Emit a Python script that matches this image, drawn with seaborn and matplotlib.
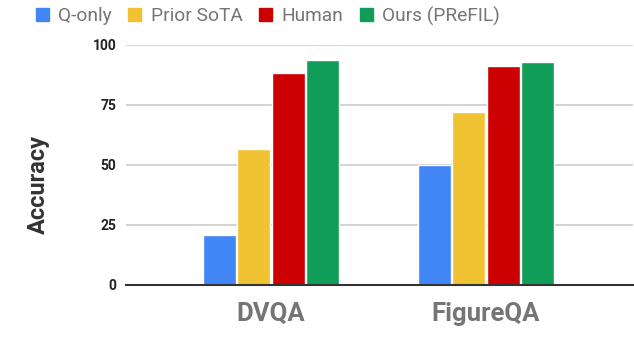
import pandas as pd
import matplotlib.pyplot as plt
import seaborn as sns

# data
datasets = ["DVQA", "FigureQA"]
methods = ["Q-only", "Prior SoTA", "Human", "Ours (PReFIL)"]
q_only = [21.0, 50.0]
prior_sota = [56.7, 72.2]
human = [88.3, 91.2]
ours = [93.6, 92.9]
colors = ["#4285F4", "#F1C232", "#CC0000", "#0F9D58"]

rows = []
for m, vals in zip(methods, [q_only, prior_sota, human, ours]):
    for d, v in zip(datasets, vals):
        rows.append({"dataset": d, "method": m, "accuracy": v})
df = pd.DataFrame(rows)

sns.set_style("white")
plt.rcParams['font.family'] = ['Roboto', 'DejaVu Sans']

fig = plt.figure(figsize=(6.34, 3.62), dpi=100)
ax = fig.add_axes([126 / 634, 77 / 362, 507 / 634, 240 / 362])

sns.barplot(data=df, x="dataset", y="accuracy", hue="method",
            hue_order=methods, palette=colors, width=0.64, gap=0.04,
            saturation=1, ax=ax, legend=False, zorder=3)

ax.set_ylim(0, 100)
ax.set_xlim(-0.674, 1.684)
ax.set_yticks([0, 25, 50, 75, 100])
ax.yaxis.grid(True, color="#cccccc", linewidth=1.2, zorder=0)
ax.set_axisbelow(True)
for s in ["top", "right", "left"]:
    ax.spines[s].set_visible(False)
ax.spines["bottom"].set_color("#333333")
ax.spines["bottom"].set_linewidth(1.5)
ax.spines["bottom"].set_zorder(5)

ax.tick_params(axis="y", length=0, pad=7, labelsize=10, labelcolor="#222222")
ax.tick_params(axis="x", length=0, pad=12, labelsize=18.5, labelcolor="#757575")
for t in ax.get_yticklabels():
    t.set_fontweight("bold")
for t in ax.get_xticklabels():
    t.set_fontweight("bold")

ax.set_xlabel("")
ax.set_ylabel("Accuracy", fontsize=17, fontweight="bold", color="#333333")
ax.yaxis.set_label_coords(-76 / 507, 0.42)

handles = [plt.Rectangle((0, 0), 1, 1, color=c) for c in colors]
fig.legend(handles, methods, loc="center left", bbox_to_anchor=(32 / 634, 1 - 16 / 362),
           ncol=4, frameon=False, fontsize=13.8, labelcolor="#757575",
           handlelength=0.68, handleheight=0.68, handletextpad=0.5,
           columnspacing=0.85, borderaxespad=0, borderpad=0.2)

plt.savefig("out.png", dpi=100)
